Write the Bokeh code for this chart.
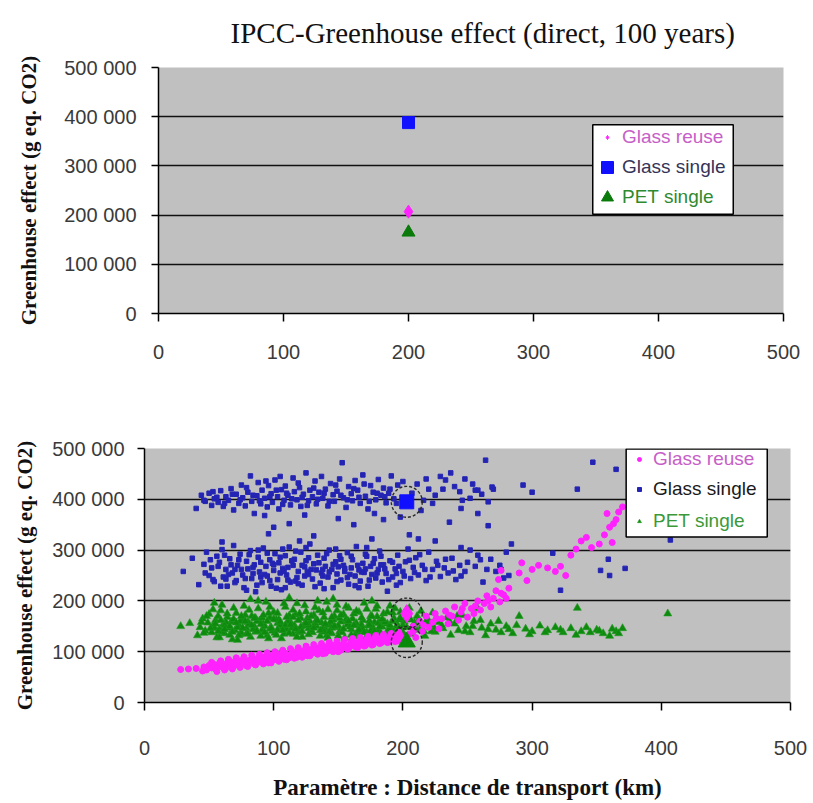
from bokeh.plotting import figure
from bokeh.models import Range1d, FixedTicker, Legend, LegendItem, BoxAnnotation
from bokeh.embed import file_html
from bokeh.resources import INLINE

# ---------------- data ----------------
title_text = "IPCC-Greenhouse effect (direct, 100 years)"
y_label = "Greenhouse effect (g eq. CO2)"
x_label = "Paramètre : Distance de transport (km)"
series_names = ["Glass reuse", "Glass single", "PET single"]

x_ticks = [0, 100, 200, 300, 400, 500]
x_tick_labels = ["0", "100", "200", "300", "400", "500"]
y_ticks = [0, 100000, 200000, 300000, 400000, 500000]
y_tick_labels = ["0", "100 000", "200 000", "300 000", "400 000", "500 000"]

# top panel: reference values (distance 200 km)
top_x = [200, 200, 200]
top_y = [207000, 388000, 165000]   # reuse, single, PET

# bottom panel: highlighted reference points
ref_x = [203, 203, 203]
ref_y = [175000, 395000, 119000]   # reuse, single, PET

glass_single_pts = [
    (40, 382000), (44, 408000), (47, 396000), (50, 412000), (52, 388000), (54, 401000), (57, 394000),
    (59, 417000), (61, 386000), (63, 405000), (65, 398000), (67, 421000), (69, 379000), (71, 410000),
    (73, 392000), (75, 428000), (76, 403000), (78, 387000), (80, 414000), (82, 446000), (83, 396000),
    (85, 372000), (87, 407000), (88, 433000), (90, 391000), (91, 418000), (93, 402000), (95, 385000),
    (96, 427000), (98, 411000), (99, 394000), (101, 438000), (103, 405000), (104, 381000), (106, 419000),
    (108, 398000), (109, 426000), (111, 408000), (113, 389000), (115, 442000), (116, 415000), (118, 399000),
    (120, 423000), (121, 386000), (123, 410000), (125, 452000), (127, 397000), (128, 418000), (130, 405000),
    (132, 436000), (133, 391000), (135, 414000), (137, 445000), (138, 402000), (140, 420000), (142, 387000),
    (144, 431000), (146, 409000), (147, 396000), (149, 416000), (151, 440000), (153, 472000), (154, 403000),
    (156, 384000), (158, 425000), (160, 411000), (161, 397000), (163, 437000), (165, 418000), (167, 392000),
    (169, 448000), (171, 406000), (173, 381000), (175, 427000), (177, 414000), (179, 399000), (181, 439000),
    (183, 408000), (185, 422000), (187, 393000), (189, 412000), (191, 446000), (193, 401000), (196, 428000),
    (198, 365000), (207, 412000), (211, 430000), (216, 398000), (220, 420000), (225, 408000), (229, 445000),
    (233, 438000), (237, 452000), (240, 425000), (244, 415000), (248, 440000), (252, 402000), (256, 418000),
    (261, 410000), (266, 395000), (270, 420000), (236, 355000), (245, 382000), (258, 372000), (266, 348000),
    (214, 378000), (178, 372000), (124, 369000), (93, 368000), (150, 362000), (112, 352000), (185, 360000),
    (264, 477000), (347, 473000), (365, 459000), (335, 420000), (293, 428000), (300, 414000), (269, 424000),
    (258, 418000), (407, 320000), (359, 282000), (353, 260000), (360, 250000), (372, 264000), (322, 221000),
    (316, 294000), (100, 345000), (96, 332000), (131, 328000), (162, 350000), (176, 322000), (120, 318000),
    (205, 330000), (212, 322000), (225, 318000), (60, 316000),
    (46, 398000), (53, 415000), (56, 404000), (62, 392000), (68, 410000), (74, 399000), (79, 423000),
    (84, 408000), (89, 397000), (94, 436000), (97, 405000), (102, 418000), (107, 390000), (110, 412000),
    (114, 401000), (119, 432000), (122, 404000), (126, 388000), (131, 422000), (134, 400000), (139, 412000),
    (143, 396000), (148, 428000), (152, 408000), (157, 399000), (162, 421000), (166, 404000), (170, 430000),
    (174, 396000), (180, 412000), (186, 405000), (190, 420000), (195, 392000), (200, 435000), (218, 440000),
    (223, 392000), (231, 420000), (246, 398000), (254, 430000), (105, 445000),
    (30, 258000), (37, 284000), (42, 232000), (46, 272000), (48, 296000), (50, 250000), (52, 265000),
    (54, 238000), (56, 288000), (58, 276000), (60, 301000), (61, 247000), (63, 262000), (64, 229000),
    (66, 283000), (68, 255000), (69, 309000), (71, 240000), (72, 270000), (74, 292000), (76, 251000),
    (77, 226000), (79, 278000), (80, 263000), (82, 299000), (83, 244000), (85, 271000), (86, 218000),
    (88, 286000), (89, 257000), (91, 236000), (92, 304000), (94, 268000), (95, 249000), (97, 281000),
    (98, 229000), (100, 260000), (101, 293000), (103, 242000), (104, 275000), (106, 222000), (107, 264000),
    (109, 289000), (110, 251000), (112, 306000), (113, 237000), (115, 270000), (116, 282000), (118, 246000),
    (119, 258000), (121, 296000), (122, 231000), (124, 267000), (125, 279000), (127, 252000), (128, 312000),
    (130, 243000), (131, 273000), (133, 261000), (134, 290000), (136, 235000), (137, 255000), (139, 284000),
    (140, 268000), (142, 247000), (143, 300000), (145, 262000), (146, 226000), (148, 277000), (149, 253000),
    (151, 289000), (152, 241000), (154, 270000), (155, 258000), (157, 295000), (158, 233000), (160, 265000),
    (161, 281000), (163, 249000), (164, 307000), (166, 261000), (167, 239000), (169, 274000), (170, 256000),
    (172, 288000), (173, 229000), (175, 268000), (176, 252000), (178, 283000), (179, 245000), (181, 262000),
    (182, 298000), (184, 237000), (185, 271000), (187, 254000), (188, 219000), (190, 279000), (192, 247000),
    (194, 263000), (196, 290000), (198, 236000), (200, 258000), (202, 277000), (204, 302000), (206, 244000),
    (208, 266000), (210, 285000), (212, 251000), (215, 270000), (218, 240000), (220, 296000), (223, 262000),
    (226, 278000), (229, 248000), (232, 265000), (235, 255000), (238, 284000), (241, 242000), (244, 270000),
    (248, 258000), (252, 300000), (256, 268000), (260, 281000), (265, 262000), (272, 258000), (275, 270000),
    (278, 245000), (280, 296000), (284, 312000), (262, 237000), (245, 305000),
    (70, 262000), (84, 254000), (99, 274000), (111, 266000), (117, 239000), (126, 258000), (138, 262000),
    (150, 267000), (159, 252000), (171, 263000), (183, 271000), (195, 254000), (105, 255000), (90, 247000),
    (47, 255000), (51, 281000), (53, 242000), (57, 268000), (59, 229000), (62, 290000), (65, 252000),
    (67, 271000), (70, 236000), (73, 281000), (75, 262000), (78, 244000), (81, 291000), (84, 266000),
    (87, 231000), (90, 276000), (93, 252000), (95, 294000), (97, 240000), (100, 271000), (102, 225000),
    (105, 286000), (108, 258000), (111, 241000), (114, 279000), (117, 298000), (119, 234000), (122, 270000),
    (124, 249000), (127, 285000), (129, 262000), (132, 228000), (135, 275000), (138, 249000), (141, 293000),
    (143, 257000), (146, 272000), (149, 238000), (152, 282000), (155, 264000), (157, 246000), (160, 288000),
    (163, 230000), (165, 270000), (168, 257000), (171, 292000), (174, 241000), (177, 274000), (180, 255000),
    (183, 288000), (186, 263000), (189, 242000), (192, 276000), (195, 231000), (197, 268000), (201, 249000),
    (205, 280000), (209, 256000), (213, 291000), (217, 262000), (221, 247000), (227, 270000), (233, 282000),
    (239, 259000), (245, 249000), (250, 276000), (258, 290000), (268, 282000), (276, 262000), (282, 250000),
    (88, 300000), (107, 302000), (125, 305000), (148, 302000), (172, 305000), (63, 243000), (79, 221000),
    (109, 226000), (139, 224000), (166, 226000),
]

pet_single_pts = [
    (28, 150000), (35, 156000), (41, 132000), (43, 148000), (45, 165000), (47, 141000), (49, 157000),
    (50, 174000), (52, 138000), (53, 151000), (55, 162000), (56, 128000), (58, 145000), (59, 181000),
    (61, 154000), (62, 136000), (64, 168000), (65, 147000), (67, 159000), (68, 124000), (70, 142000),
    (71, 176000), (73, 153000), (74, 134000), (76, 165000), (77, 190000), (79, 146000), (80, 158000),
    (82, 129000), (83, 170000), (85, 150000), (86, 139000), (88, 185000), (89, 161000), (91, 143000),
    (92, 155000), (94, 198000), (95, 132000), (97, 167000), (98, 148000), (100, 178000), (101, 137000),
    (103, 156000), (104, 163000), (106, 126000), (107, 149000), (109, 188000), (110, 144000), (112, 171000),
    (113, 158000), (115, 135000), (116, 152000), (118, 195000), (119, 141000), (121, 166000), (122, 129000),
    (124, 154000), (125, 179000), (127, 146000), (128, 160000), (130, 138000), (131, 172000), (133, 150000),
    (134, 200000), (136, 131000), (137, 157000), (139, 168000), (140, 145000), (142, 183000), (143, 152000),
    (145, 136000), (146, 163000), (148, 148000), (149, 192000), (151, 140000), (152, 159000), (154, 174000),
    (155, 127000), (157, 153000), (158, 186000), (160, 144000), (161, 165000), (163, 134000), (164, 156000),
    (166, 178000), (167, 147000), (169, 162000), (170, 196000), (172, 138000), (173, 151000), (175, 170000),
    (176, 130000), (178, 158000), (179, 184000), (181, 143000), (182, 161000), (184, 149000), (185, 175000),
    (187, 136000), (188, 155000), (190, 190000), (191, 145000), (193, 166000), (194, 128000), (196, 152000),
    (198, 178000), (199, 141000), (201, 160000), (203, 148000), (205, 186000), (207, 135000), (209, 157000),
    (211, 170000), (213, 143000), (215, 154000), (217, 131000), (219, 165000), (221, 148000), (223, 177000),
    (225, 139000), (228, 158000), (231, 146000), (234, 167000), (237, 133000), (240, 155000), (243, 142000),
    (246, 172000), (249, 150000), (252, 138000), (255, 160000), (258, 185000), (261, 147000), (264, 132000),
    (268, 155000), (272, 143000), (276, 138000), (280, 150000), (285, 136000), (290, 170000), (295, 145000),
    (300, 140000), (306, 151000), (312, 142000), (318, 148000), (324, 138000), (330, 146000), (335, 186000),
    (338, 140000), (345, 138000), (350, 143000), (355, 136000), (360, 131000), (365, 140000), (370, 146000),
    (405, 175000),
    (54, 147000), (57, 170000), (60, 139000), (63, 158000), (66, 133000), (69, 164000), (72, 148000),
    (75, 137000), (78, 172000), (81, 155000), (84, 144000), (87, 160000), (90, 131000), (93, 150000),
    (96, 176000), (99, 141000), (102, 163000), (105, 152000), (108, 135000), (111, 160000), (114, 147000),
    (117, 173000), (120, 138000), (123, 151000), (126, 166000), (129, 142000), (132, 156000), (135, 181000),
    (138, 146000), (141, 132000), (144, 159000), (147, 170000), (150, 151000), (153, 138000), (156, 164000),
    (159, 149000), (162, 175000), (165, 140000), (168, 153000), (171, 126000), (174, 161000), (177, 147000),
    (180, 169000), (183, 136000), (186, 158000), (189, 144000), (192, 177000), (195, 150000), (197, 163000),
    (200, 137000), (204, 171000), (208, 150000), (212, 162000), (216, 141000), (220, 156000), (224, 148000),
    (62, 152000), (74, 160000), (86, 166000), (97, 145000), (109, 152000), (121, 149000), (133, 162000),
    (145, 147000), (157, 160000), (169, 144000), (181, 156000), (193, 140000), (79, 136000), (91, 167000),
    (103, 143000), (115, 168000), (127, 153000), (139, 139000), (151, 166000), (163, 152000), (175, 141000),
    (44, 158000), (46, 137000), (48, 170000), (51, 146000), (53, 183000), (55, 155000), (57, 140000),
    (59, 162000), (60, 192000), (62, 144000), (64, 175000), (66, 150000), (68, 139000), (69, 186000),
    (71, 157000), (73, 132000), (75, 170000), (76, 147000), (78, 160000), (80, 135000), (81, 182000),
    (83, 152000), (85, 166000), (87, 141000), (88, 200000), (90, 154000), (92, 172000), (93, 138000),
    (95, 160000), (97, 188000), (98, 146000), (100, 164000), (102, 133000), (103, 176000), (105, 159000),
    (107, 142000), (108, 195000), (110, 168000), (112, 137000), (113, 153000), (115, 182000), (117, 145000),
    (119, 162000), (120, 175000), (122, 140000), (124, 191000), (125, 156000), (127, 134000), (129, 170000),
    (131, 147000), (132, 187000), (134, 161000), (136, 142000), (138, 177000), (140, 155000), (141, 198000),
    (143, 139000), (145, 168000), (147, 150000), (149, 181000), (150, 131000), (152, 172000), (154, 145000),
    (156, 189000), (158, 160000), (160, 133000), (162, 152000), (164, 180000), (166, 143000), (168, 167000),
    (170, 138000), (172, 184000), (174, 153000), (176, 170000), (178, 140000), (180, 190000), (182, 149000),
    (184, 164000), (186, 131000), (188, 178000), (190, 152000), (192, 160000), (194, 185000), (196, 143000),
    (198, 166000), (200, 152000), (202, 130000), (206, 163000), (210, 146000), (214, 180000), (218, 158000),
    (222, 140000), (226, 167000), (230, 152000), (236, 160000), (242, 170000), (248, 140000), (254, 150000),
    (260, 162000), (266, 144000), (274, 160000), (282, 144000), (288, 152000), (298, 134000), (310, 138000),
    (322, 143000), (334, 133000), (342, 148000), (352, 141000), (362, 145000), (367, 136000), (58, 128000),
    (72, 123000), (96, 126000), (118, 129000), (142, 127000), (166, 130000), (190, 133000), (54, 196000),
    (82, 203000), (112, 206000), (146, 204000), (176, 200000),
]

glass_reuse_pts = [
    (28, 65000), (34, 66000), (40, 67000), (46, 70000), (48, 64000), (50, 73000), (52, 68000), (54, 75000),
    (55, 66000), (57, 71000), (58, 77000), (60, 70000), (61, 74000), (63, 68000), (64, 78000), (66, 73000),
    (67, 80000), (69, 71000), (70, 76000), (72, 82000), (73, 74000), (75, 79000), (76, 84000), (78, 77000),
    (79, 72000), (81, 83000), (82, 79000), (84, 86000), (85, 76000), (87, 82000), (88, 88000), (90, 80000),
    (91, 85000), (93, 90000), (94, 83000), (96, 78000), (97, 88000), (99, 92000), (100, 84000), (102, 89000),
    (103, 95000), (105, 87000), (106, 92000), (108, 85000), (109, 97000), (111, 91000), (112, 88000),
    (114, 95000), (115, 100000), (117, 93000), (118, 89000), (120, 98000), (121, 94000), (123, 102000),
    (124, 96000), (126, 92000), (127, 100000), (129, 105000), (130, 97000), (132, 103000), (133, 99000),
    (135, 108000), (136, 101000), (138, 96000), (139, 106000), (141, 110000), (142, 102000), (144, 107000),
    (145, 113000), (147, 104000), (148, 109000), (150, 100000), (151, 112000), (153, 107000), (154, 116000),
    (156, 110000), (157, 105000), (159, 114000), (160, 119000), (162, 111000), (163, 116000), (165, 108000),
    (166, 121000), (168, 114000), (169, 118000), (171, 112000), (172, 124000), (174, 117000), (175, 121000),
    (177, 114000), (178, 126000), (180, 119000), (181, 123000), (183, 117000), (184, 128000), (186, 121000),
    (187, 125000), (189, 119000), (190, 130000), (192, 124000), (194, 127000), (196, 121000), (198, 132000),
    (200, 126000),
    (205, 135000), (208, 150000), (210, 128000), (213, 160000), (215, 140000), (218, 170000), (220, 148000),
    (223, 158000), (225, 175000), (228, 145000), (230, 165000), (233, 180000), (235, 155000), (238, 170000),
    (240, 188000), (243, 162000), (245, 178000), (248, 195000), (250, 168000), (253, 185000), (255, 175000),
    (258, 200000), (260, 182000), (263, 195000), (265, 210000), (268, 188000), (270, 205000), (272, 220000),
    (275, 198000), (278, 212000), (280, 205000), (274, 242000), (276, 260000), (282, 225000),
    (290, 255000), (292, 275000), (296, 240000), (300, 262000), (305, 270000), (312, 265000), (318, 258000),
    (322, 268000), (326, 250000), (330, 290000), (334, 302000), (338, 318000), (342, 325000), (346, 305000),
    (352, 312000), (356, 330000), (360, 345000), (362, 315000), (365, 360000), (367, 375000), (370, 385000),
    (358, 372000), (363, 352000),
    (62, 72000), (80, 80000), (95, 86000), (110, 93000), (125, 99000), (140, 104000), (155, 112000),
    (170, 116000), (185, 124000), (71, 79000), (89, 84000), (104, 91000), (119, 96000), (134, 104000),
    (45, 62000), (52, 79000), (56, 61000), (59, 82000), (62, 64000), (65, 85000), (68, 66000), (71, 88000),
    (74, 69000), (77, 90000), (80, 71000), (83, 93000), (86, 74000), (89, 95000), (92, 76000), (95, 98000),
    (98, 78000), (101, 100000), (104, 81000), (107, 103000), (110, 84000), (113, 106000), (116, 87000),
    (119, 108000), (122, 89000), (125, 111000), (128, 92000), (131, 114000), (134, 95000), (137, 116000),
    (140, 97000), (143, 119000), (146, 100000), (149, 121000), (152, 103000), (155, 124000), (158, 106000),
    (161, 126000), (164, 109000), (167, 128000), (170, 111000), (173, 130000), (176, 113000), (179, 132000),
    (182, 116000), (185, 134000), (188, 118000), (191, 136000), (194, 120000), (197, 138000), (60, 76000),
    (75, 81000), (90, 87000), (105, 94000), (120, 101000), (135, 107000), (150, 111000), (165, 117000),
    (180, 124000), (195, 130000), (208, 140000), (216, 152000), (226, 165000), (236, 172000), (246, 185000),
    (256, 190000), (266, 200000), (276, 215000),
]

reuse_x = [p[0] for p in glass_reuse_pts]
reuse_y = [p[1] for p in glass_reuse_pts]
single_x = [p[0] for p in glass_single_pts]
single_y = [p[1] for p in glass_single_pts]
pet_x = [p[0] for p in pet_single_pts]
pet_y = [p[1] for p in pet_single_pts]

# ---------------- style ----------------
MAGENTA = "#ff22ff"
BLUE_DARK = "#2424b4"
BLUE = "#1010ff"
GREEN = "#0e8a0e"
PLOT_BG = "#c0c0c0"
SERIF = "Liberation Serif"
SANS = "Liberation Sans"


def style_axes(p, tick_label_standoff_y, axis_label_standoff_y, x_tick_out, x_standoff):
    p.background_fill_color = PLOT_BG
    p.border_fill_color = "white"
    p.outline_line_color = None
    p.xgrid.visible = False
    p.ygrid.ticker = FixedTicker(ticks=y_ticks[1:-1])
    p.ygrid.grid_line_color = "#111111"
    p.ygrid.grid_line_width = 1.6

    xa = p.xaxis[0]
    xa.ticker = FixedTicker(ticks=x_ticks)
    xa.major_label_overrides = {t: l for t, l in zip(x_ticks, x_tick_labels)}
    xa.minor_tick_line_color = None
    xa.major_tick_in = 0
    xa.major_tick_out = x_tick_out
    xa.major_label_standoff = x_standoff
    xa.axis_line_color = "black"
    xa.axis_line_width = 1.5
    xa.major_tick_line_color = "black"
    xa.major_tick_line_width = 1.5
    xa.major_label_text_font = SANS
    xa.major_label_text_font_size = "20px"
    xa.major_label_text_color = "#3a3a3a"

    ya = p.yaxis[0]
    ya.ticker = FixedTicker(ticks=y_ticks)
    ya.major_label_overrides = {t: l for t, l in zip(y_ticks, y_tick_labels)}
    ya.minor_tick_line_color = None
    ya.major_tick_in = 0
    ya.major_tick_out = 7
    ya.major_label_standoff = tick_label_standoff_y
    ya.axis_line_color = "black"
    ya.axis_line_width = 1.5
    ya.major_tick_line_color = "black"
    ya.major_tick_line_width = 1.5
    ya.major_label_text_font = SANS
    ya.major_label_text_font_size = "20px"
    ya.major_label_text_color = "#3a3a3a"
    ya.axis_label = y_label
    ya.axis_label_text_font = SERIF
    ya.axis_label_text_font_style = "bold"
    ya.axis_label_text_font_size = "21px"
    ya.axis_label_text_color = "#111111"
    ya.axis_label_standoff = axis_label_standoff_y


def add_legend(p, renderer, label, color, vx, vy, gw, gh, standoff):
    leg = Legend(
        items=[LegendItem(label=label, renderers=[renderer])],
        location=(vx, vy),
        glyph_width=gw, glyph_height=gh, label_height=gh,
        label_standoff=standoff, padding=0, margin=0, spacing=0,
        background_fill_alpha=0, border_line_color=None,
        label_text_font=SANS, label_text_font_size="19px",
        label_text_color=color,
    )
    p.add_layout(leg)


W = 813

# ---------------- top panel ----------------
p1 = figure(width=W, height=385, output_backend="svg", toolbar_location=None,
            x_range=Range1d(0, 500), y_range=Range1d(0, 500000),
            min_border_left=158, min_border_right=30, min_border_top=65, min_border_bottom=72,
            title=title_text)
p1.title.align = "left"
p1.title.offset = 72
p1.title.vertical_align = "top"
p1.title.text_font = SERIF
p1.title.text_font_style = "normal"
p1.title.text_font_size = "29px"
p1.title.text_color = "#111111"
p1.title.standoff = 33
style_axes(p1, 15, 20, 8, 23)

t_reuse = p1.scatter(top_x[0:1], top_y[0:1], marker="diamond", size=13,
                     fill_color=MAGENTA, line_color=MAGENTA)
t_single = p1.scatter(top_x[1:2], top_y[1:2], marker="square", size=12,
                      fill_color=BLUE, line_color=BLUE)
t_pet = p1.scatter(top_x[2:3], top_y[2:3], marker="triangle", size=13,
                   fill_color="#0a7a0a", line_color="#0a7a0a")

p1.add_layout(BoxAnnotation(left=347.4, right=459.8, top=383600, bottom=201600,
                            fill_color="white", fill_alpha=1,
                            line_color="black", line_width=1.5, line_alpha=1))
add_legend(p1, t_reuse, series_names[0], "#c75ec7", 444, 161, 10, 30, 10)
add_legend(p1, t_single, series_names[1], "#343458", 434, 131, 30, 30, 0)
add_legend(p1, t_pet, series_names[2], "#2f8a2f", 434, 101, 30, 30, 0)

# ---------------- bottom panel ----------------
p2 = figure(width=W, height=418, output_backend="svg", toolbar_location=None,
            x_range=Range1d(0, 500), y_range=Range1d(0, 500000),
            min_border_left=144, min_border_right=23, min_border_top=63, min_border_bottom=101)
style_axes(p2, 13, 12, 8, 30)
xa2 = p2.xaxis[0]
xa2.axis_label = x_label
xa2.axis_label_text_font = SERIF
xa2.axis_label_text_font_style = "bold"
xa2.axis_label_text_font_size = "23px"
xa2.axis_label_text_color = "#111111"
xa2.axis_label_standoff = 17

b_single = p2.scatter(single_x, single_y, marker="square", size=4.5,
                      fill_color=BLUE_DARK, line_color=BLUE_DARK)
b_pet = p2.scatter(pet_x, pet_y, marker="triangle", size=8,
                   fill_color=GREEN, line_color="#1f9a1f", line_width=0.6)
b_reuse = p2.scatter(reuse_x, reuse_y, marker="circle", size=6,
                     fill_color=MAGENTA, line_color=MAGENTA)

p2.scatter(ref_x[1:2], ref_y[1:2], marker="square", size=14, fill_color=BLUE, line_color=BLUE)
p2.scatter(ref_x[0:1], ref_y[0:1], marker="diamond", size=18, fill_color=MAGENTA, line_color=MAGENTA)
p2.scatter(ref_x[2:3], ref_y[2:3], marker="triangle", size=17, fill_color="#0a8a0a", line_color="#0a8a0a")
p2.scatter(ref_x, ref_y, marker="circle", size=31, fill_alpha=0,
           line_color="#2a2a2a", line_width=1.4, line_dash="3 2")

p2.add_layout(BoxAnnotation(left=372.8, right=482.0, top=499000, bottom=326000,
                            fill_color="white", fill_alpha=1,
                            line_color="black", line_width=1.5, line_alpha=1))
add_legend(p2, b_reuse, series_names[0], "#c75ec7", 490, 227, 10, 32, 9)
add_legend(p2, b_single, series_names[1], "#1a1a1a", 490, 197, 10, 32, 9)
add_legend(p2, b_pet, series_names[2], "#3a9a3a", 490, 165, 10, 32, 9)

open("out.html", "w").write(file_html([p1, p2], INLINE))
